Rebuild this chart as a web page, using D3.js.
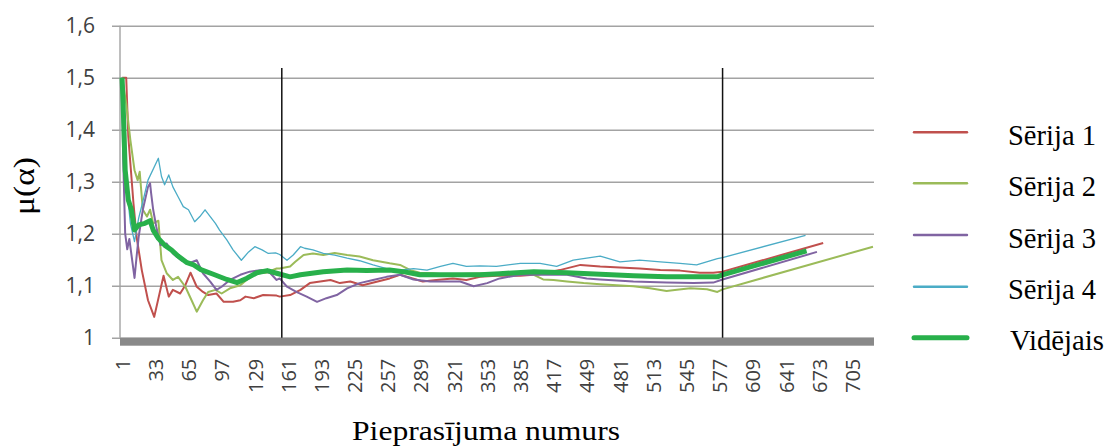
<!DOCTYPE html>
<html>
<head>
<meta charset="utf-8">
<script src="https://cdnjs.cloudflare.com/ajax/libs/d3/7.8.5/d3.min.js"></script>
<style>
  body { margin: 0; background: #fff; }
  svg { display: block; }
</style>
</head>
<body>
<script>
// series: [request number, mu]
var seria1 = [[1,1.5],[5,1.5],[7,1.387],[12,1.258],[15,1.194],[20,1.13],[26,1.072],[32,1.04],[41,1.119],[46,1.079],[50,1.092],[57,1.085],[62,1.101],[67,1.125],[73,1.098],[79,1.088],[84,1.082],[92,1.085],[99,1.069],[108,1.069],[115,1.072],[120,1.079],[128,1.076],[137,1.082],[150,1.081],[153,1.079],[163,1.082],[173,1.092],[182,1.105],[202,1.111],[211,1.105],[221,1.108],[233,1.101],[259,1.114],[269,1.121],[291,1.108],[304,1.111],[320,1.114],[333,1.111],[346,1.117],[362,1.119],[385,1.119],[404,1.122],[423,1.13],[443,1.14],[462,1.137],[481,1.135],[500,1.133],[520,1.13],[539,1.129],[558,1.125],[571,1.125],[580,1.127],[677,1.182]];
var seria2 = [[1,1.5],[5,1.45],[9,1.38],[13,1.322],[16,1.303],[18,1.319],[21,1.246],[25,1.233],[28,1.246],[31,1.22],[36,1.225],[39,1.149],[44,1.124],[50,1.111],[55,1.117],[62,1.098],[68,1.072],[73,1.05],[79,1.072],[84,1.088],[91,1.092],[97,1.085],[105,1.095],[115,1.101],[121,1.111],[131,1.124],[140,1.125],[150,1.133],[153,1.133],[163,1.137],[168,1.146],[176,1.159],[185,1.162],[195,1.159],[206,1.163],[218,1.159],[230,1.156],[243,1.149],[259,1.143],[269,1.14],[279,1.13],[288,1.125],[301,1.124],[314,1.121],[333,1.123],[353,1.124],[365,1.123],[385,1.125],[398,1.121],[407,1.112],[417,1.111],[430,1.108],[446,1.105],[462,1.103],[478,1.101],[494,1.099],[510,1.095],[526,1.09],[536,1.092],[549,1.095],[565,1.093],[575,1.088],[580,1.093],[725,1.175]];
var seria3 = [[1,1.5],[2,1.35],[4,1.2],[6,1.17],[8,1.19],[10,1.16],[13,1.115],[15,1.156],[17,1.194],[21,1.246],[26,1.29],[28,1.297],[29,1.278],[31,1.246],[34,1.213],[38,1.178],[44,1.181],[50,1.162],[58,1.149],[65,1.143],[73,1.149],[79,1.124],[86,1.108],[92,1.092],[97,1.098],[105,1.111],[115,1.121],[124,1.127],[136,1.13],[144,1.124],[150,1.111],[153,1.114],[160,1.098],[169,1.088],[179,1.079],[189,1.069],[198,1.076],[208,1.082],[218,1.095],[230,1.105],[243,1.111],[256,1.117],[269,1.121],[282,1.112],[298,1.108],[314,1.108],[327,1.108],[340,1.099],[353,1.105],[365,1.114],[385,1.121],[404,1.121],[430,1.121],[449,1.114],[462,1.112],[494,1.108],[526,1.106],[552,1.105],[571,1.106],[580,1.112],[671,1.165]];
var seria4 = [[1,1.5],[3,1.4],[6,1.28],[9,1.22],[13,1.185],[17,1.23],[22,1.27],[26,1.303],[36,1.345],[39,1.31],[42,1.294],[46,1.313],[50,1.29],[55,1.271],[60,1.252],[65,1.246],[71,1.223],[76,1.233],[81,1.246],[86,1.233],[91,1.22],[95,1.207],[102,1.188],[108,1.169],[116,1.149],[123,1.165],[129,1.175],[136,1.169],[142,1.162],[149,1.163],[153,1.16],[160,1.149],[166,1.159],[173,1.175],[177,1.172],[185,1.169],[195,1.162],[206,1.159],[218,1.153],[230,1.148],[243,1.14],[256,1.133],[269,1.13],[282,1.133],[295,1.13],[308,1.137],[320,1.143],[333,1.137],[346,1.138],[362,1.137],[385,1.143],[404,1.143],[420,1.137],[436,1.149],[462,1.157],[481,1.146],[500,1.149],[520,1.146],[539,1.143],[555,1.14],[575,1.152],[580,1.154],[660,1.197]];
var videjais = [[1,1.5],[2,1.45],[4,1.322],[7,1.265],[10,1.246],[13,1.207],[17,1.217],[23,1.22],[28,1.225],[31,1.207],[36,1.191],[42,1.178],[49,1.168],[55,1.157],[63,1.145],[70,1.14],[77,1.131],[89,1.122],[102,1.112],[112,1.106],[121,1.114],[131,1.125],[141,1.129],[150,1.124],[163,1.117],[173,1.121],[195,1.127],[218,1.13],[237,1.129],[259,1.13],[272,1.127],[288,1.121],[346,1.121],[365,1.123],[398,1.127],[430,1.125],[462,1.122],[494,1.119],[526,1.117],[558,1.117],[575,1.117],[580,1.121],[661,1.167]];

var markers = [155, 580]; // the two black vertical lines
var xTicks = [1,33,65,97,129,161,193,225,257,289,321,353,385,417,449,481,513,545,577,609,641,673,705];
var yTicks = [1, 1.1, 1.2, 1.3, 1.4, 1.5, 1.6];
var names = ["Sērija 1", "Sērija 2", "Sērija 3", "Sērija 4", "Vidējais"];

var series = [
  {name: names[0], data: seria1, color: "#c0504d", w: 2},
  {name: names[1], data: seria2, color: "#9bbb59", w: 2},
  {name: names[2], data: seria3, color: "#8064a2", w: 2},
  {name: names[3], data: seria4, color: "#4bacc6", w: 1.3},
  {name: names[4], data: videjais, color: "#28b04b", w: 5}
];

var W = 1109, H = 448;
var plot = {left: 120, right: 874, top: 25.7, bottom: 337.7};

var svg = d3.select("body").append("svg")
  .attr("width", W).attr("height", H);

var x = d3.scaleLinear().domain([-1, 726]).range([plot.left, plot.right]);
var y = d3.scaleLinear().domain([1, 1.6]).range([plot.bottom, plot.top]);

// y axis with gridlines (ticks stick out 8px left of the axis)
var yAxis = svg.append("g")
  .attr("transform", "translate(112,0)")
  .call(d3.axisLeft(y)
    .tickValues(yTicks)
    .tickSizeInner(-(plot.right - 112))
    .tickSizeOuter(0)
    .tickPadding(17)
    .tickFormat(function(v) { return v === 1 ? "1" : d3.format(".1f")(v).replace(".", ","); }));
yAxis.select(".domain").remove();
yAxis.selectAll("line").attr("stroke", "#a3a3a3").attr("stroke-width", 1.4);
yAxis.selectAll("text")
  .attr("fill", "#404040")
  .style("font-family", "'Open Sans', sans-serif")
  .style("font-size", "21px");

// vertical axis line
svg.append("line")
  .attr("x1", plot.left).attr("x2", plot.left)
  .attr("y1", plot.top).attr("y2", plot.bottom)
  .attr("stroke", "#a3a3a3").attr("stroke-width", 1.4);

// grey floor bar
svg.append("rect")
  .attr("x", plot.left).attr("y", plot.bottom)
  .attr("width", plot.right - plot.left).attr("height", 8)
  .attr("fill", "#898989");

// x axis labels
var xAxis = svg.append("g")
  .attr("transform", "translate(0," + plot.bottom + ")")
  .call(d3.axisBottom(x).tickValues(xTicks).tickSize(0).tickFormat(d3.format("d")));
xAxis.select(".domain").remove();
xAxis.selectAll("text")
  .attr("transform", "translate(0,21) rotate(-90)")
  .attr("x", 0).attr("y", 0).attr("dy", "0.36em")
  .attr("text-anchor", "end")
  .attr("fill", "#404040")
  .style("font-family", "'Open Sans', sans-serif")
  .style("font-size", "20px");

// series lines
var line = d3.line()
  .x(function(d) { return x(d[0]); })
  .y(function(d) { return y(d[1]); });

svg.selectAll("path.serie")
  .data(series).enter()
  .append("path")
  .attr("class", "serie")
  .attr("fill", "none")
  .attr("stroke", function(d) { return d.color; })
  .attr("stroke-width", function(d) { return d.w; })
  .attr("stroke-linejoin", "round")
  .attr("d", function(d) { return line(d.data); });

// black marker lines
svg.selectAll("line.marker")
  .data(markers).enter()
  .append("line")
  .attr("class", "marker")
  .attr("x1", function(d) { return x(d); }).attr("x2", function(d) { return x(d); })
  .attr("y1", 68).attr("y2", plot.bottom)
  .attr("stroke", "#111").attr("stroke-width", 1.5);

// axis titles
svg.append("text")
  .attr("x", 486).attr("y", 440)
  .attr("text-anchor", "middle")
  .attr("textLength", 268).attr("lengthAdjust", "spacingAndGlyphs")
  .style("font-family", "'Liberation Serif', 'Times New Roman', serif")
  .style("font-size", "27px")
  .text("Pieprasījuma numurs");

svg.append("text")
  .attr("transform", "translate(34,186) rotate(-90)")
  .attr("text-anchor", "middle")
  .attr("textLength", 58).attr("lengthAdjust", "spacingAndGlyphs")
  .style("font-family", "'Liberation Serif', 'Times New Roman', serif")
  .style("font-size", "30px")
  .text("μ(α)");

// legend
var legendY = [132.3, 183.3, 235, 286.7, 337.7];
var legend = svg.selectAll("g.leg")
  .data(series).enter()
  .append("g")
  .attr("class", "leg")
  .attr("transform", function(d, i) { return "translate(0," + legendY[i] + ")"; });

legend.append("line")
  .attr("x1", 914).attr("x2", 967)
  .attr("stroke", function(d) { return d.color; })
  .attr("stroke-width", function(d) { return d.w === 5 ? 5 : 2.4; })
  .attr("stroke-linecap", "round");

legend.append("text")
  .attr("x", function(d, i) { return i === 4 ? 1010 : 1008; })
  .attr("y", 12.7)
  .attr("textLength", function(d, i) { return i === 4 ? 94 : 88; })
  .attr("lengthAdjust", "spacingAndGlyphs")
  .style("font-family", "'Liberation Serif', 'Times New Roman', serif")
  .style("font-size", "29px")
  .text(function(d) { return d.name; });
</script>
</body>
</html>
